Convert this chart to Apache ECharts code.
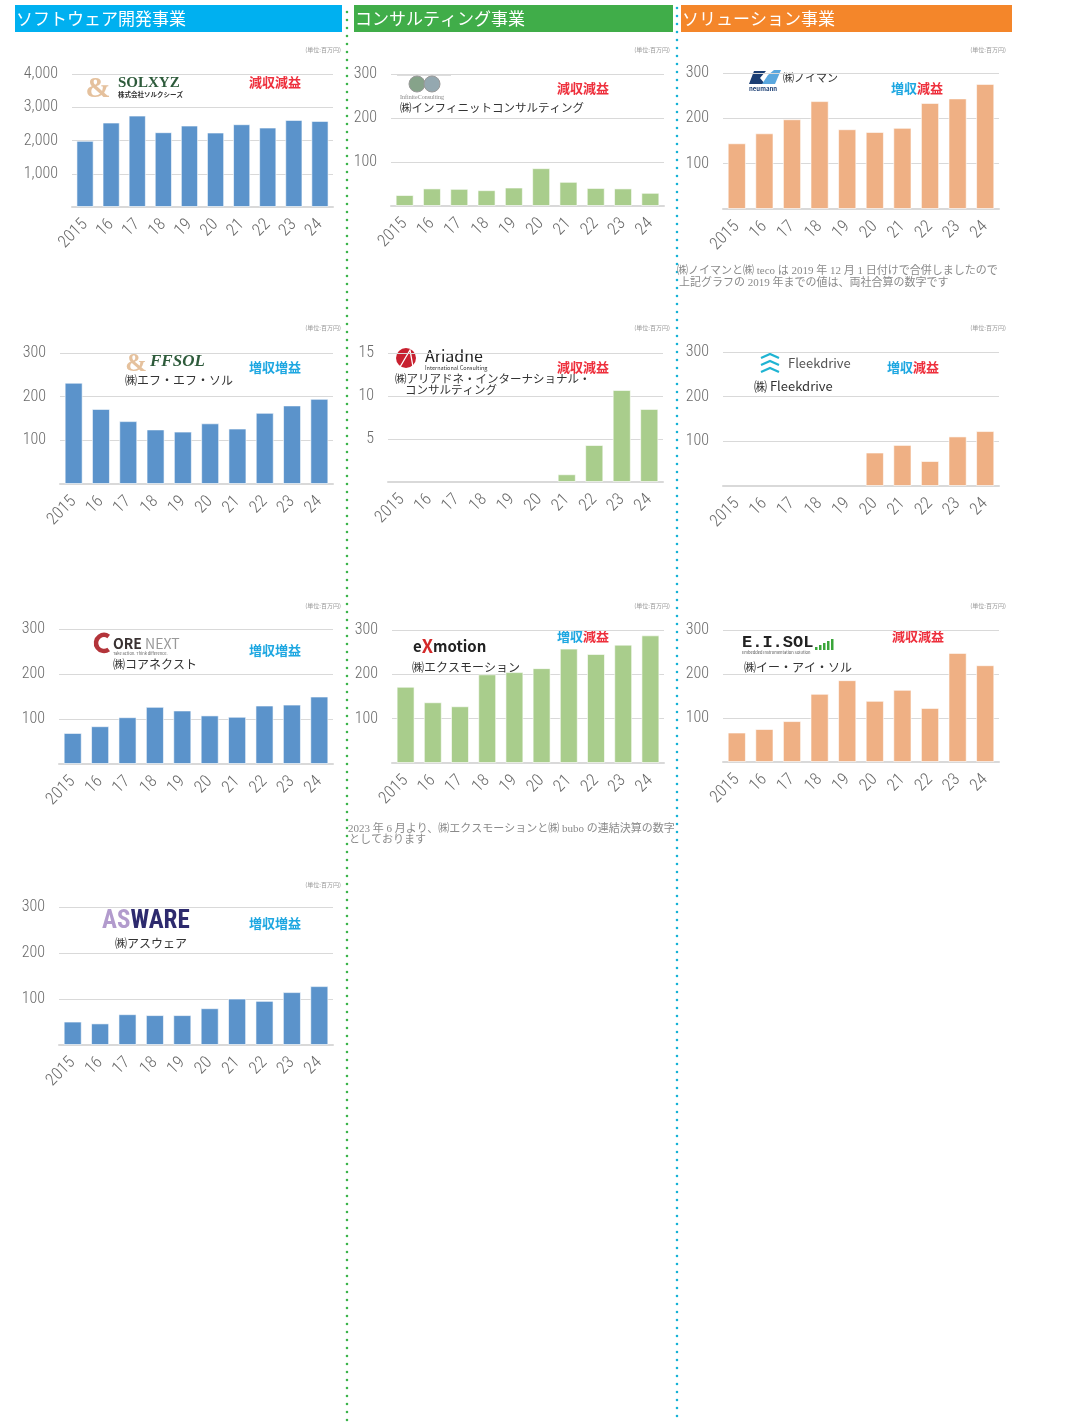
<!DOCTYPE html>
<html>
<head>
<meta charset="utf-8">
<script src="https://cdn.jsdelivr.net/npm/echarts@6.0.0/dist/echarts.min.js"></script>
<style>
html, body { margin: 0; padding: 0; background: #fff; }
#main { width: 1076px; height: 1424px; }
</style>
</head>
<body>
<div id="main"></div>
<script>
var years = ['2015', '16', '17', '18', '19', '20', '21', '22', '23', '24'];

// 売上高（単位：百万円）
var solxyz   = [1990, 2540, 2750, 2250, 2450, 2240, 2490, 2390, 2620, 2590];
var infinite = [25, 40, 39, 36, 42, 86, 55, 41, 40, 30];
var neumann  = [145, 167, 198, 238, 176, 170, 179, 234, 244, 276];
var ffsol    = [232, 172, 144, 125, 120, 139, 127, 163, 180, 195];
var ariadne  = ['-', '-', '-', '-', '-', '-', 0.9, 4.3, 10.7, 8.5];
var fleek    = ['-', '-', '-', '-', '-', 75, 92, 56, 111, 123];
var corenext = [69, 84, 104, 127, 119, 108, 105, 130, 132, 150];
var exmotion = [172, 137, 128, 200, 205, 214, 258, 246, 267, 288];
var eisol    = [67, 75, 93, 155, 186, 139, 164, 123, 248, 220];
var asware   = [51, 47, 67, 65, 65, 80, 101, 96, 115, 128];

var sections = ['ソフトウェア開発事業', 'コンサルティング事業', 'ソリューション事業'];
var results  = ['減収減益', '減収減益', '増収減益', '増収増益', '減収減益', '増収減益', '増収増益', '増収減益', '減収減益', '増収増益'];

var NUM = "'Roboto Condensed', 'Noto Sans CJK JP', sans-serif";
var JP = "'Noto Sans CJK JP', sans-serif";
var BLUE = '#5b93cb', GREEN = '#a9cd8c', ORANGE = '#efb084';

// one entry per small chart: data, colour, plot rect, y scale, unit/result label spots
var panels = [
    {data: solxyz,   color: BLUE,   l: 72,  t: 74,  w: 261, h: 133, max: 4000, step: 1000, unitX: 341,  unitY: 50,  resX: 275, resY: 82},
    {data: infinite, color: GREEN,  l: 391, t: 74,  w: 273, h: 132, max: 300,  step: 100,  unitX: 670,  unitY: 50,  resX: 583, resY: 88},
    {data: neumann,  color: ORANGE, l: 723, t: 73,  w: 276, h: 136, max: 300,  step: 100,  unitX: 1006, unitY: 50,  resX: 917, resY: 88},
    {data: ffsol,    color: BLUE,   l: 60,  t: 353, w: 273, h: 131, max: 300,  step: 100,  unitX: 341,  unitY: 328, resX: 275, resY: 367},
    {data: ariadne,  color: GREEN,  l: 388, t: 353, w: 275, h: 129, max: 15,   step: 5,    unitX: 670,  unitY: 328, resX: 583, resY: 367},
    {data: fleek,    color: ORANGE, l: 723, t: 352, w: 276, h: 134, max: 300,  step: 100,  unitX: 1006, unitY: 328, resX: 913, resY: 367},
    {data: corenext, color: BLUE,   l: 59,  t: 629, w: 274, h: 135, max: 300,  step: 100,  unitX: 341,  unitY: 606, resX: 275, resY: 650},
    {data: exmotion, color: GREEN,  l: 392, t: 630, w: 272, h: 133, max: 300,  step: 100,  unitX: 670,  unitY: 606, resX: 583, resY: 636},
    {data: eisol,    color: ORANGE, l: 723, t: 630, w: 276, h: 132, max: 300,  step: 100,  unitX: 1006, unitY: 606, resX: 918, resY: 636},
    {data: asware,   color: BLUE,   l: 59,  t: 907, w: 274, h: 138, max: 300,  step: 100,  unitX: 341,  unitY: 885, resX: 275, resY: 923}
];

var grids = [], xAxes = [], yAxes = [], series = [], graphics = [];

function txt(x, y, text, font, fill, align, extra) {
    var el = {type: 'text', x: x, y: y, silent: true,
        style: {text: text, font: font, fill: fill, align: align || 'left', textAlign: align || 'left',
                verticalAlign: 'middle', textVerticalAlign: 'middle'}};
    if (extra) { for (var k in extra) el.style[k] = extra[k]; }
    return el;
}

panels.forEach(function (p, i) {
    grids.push({left: p.l, top: p.t, width: p.w, height: p.h, containLabel: false, outerBoundsMode: 'none'});
    xAxes.push({
        type: 'category', gridIndex: i, data: years,
        axisTick: {show: false},
        axisLine: {lineStyle: {color: '#d9d9d9', width: 2}},
        axisLabel: {rotate: 45, interval: 0, margin: 15, color: '#6a6a6a', fontSize: 17, fontWeight: 300, fontFamily: NUM}
    });
    yAxes.push({
        type: 'value', gridIndex: i, min: 0, max: p.max, interval: p.step,
        axisLine: {show: false}, axisTick: {show: false},
        splitLine: {lineStyle: {color: '#d9d9d9', width: 1}},
        axisLabel: {margin: 14, color: '#6a6a6a', fontSize: 16, fontWeight: 300, fontFamily: NUM,
            formatter: function (v) { return v === 0 ? '' : v.toLocaleString('en-US'); }}
    });
    series.push({
        type: 'bar', xAxisIndex: i, yAxisIndex: i, data: p.data, barWidth: '66%', silent: true,
        itemStyle: {color: p.color, borderColor: 'rgba(255,255,255,0.6)', borderWidth: 1}
    });
    graphics.push(txt(p.unitX, p.unitY, '(単位:百万円)', '6px ' + JP, '#9a9a9a', 'right'));
    var r = results[i];
    graphics.push(txt(p.resX, p.resY, '{a|' + r.slice(0, 2) + '}{b|' + r.slice(2) + '}', 'bold 13px ' + JP, '#333', 'center', {
        rich: {
            a: {fill: r.charAt(0) === '増' ? '#1ea7e1' : '#ee2f3c', font: 'bold 13px ' + JP},
            b: {fill: r.charAt(2) === '増' ? '#1ea7e1' : '#ee2f3c', font: 'bold 13px ' + JP}
        }
    }));
});

// section headers
var headColors = ['#00b0f0', '#40ad49', '#f4862a'];
var headX = [15, 354, 681], headW = [327, 319, 331];
sections.forEach(function (s, i) {
    graphics.push({type: 'rect', silent: true, shape: {x: headX[i], y: 5, width: headW[i], height: 27}, style: {fill: headColors[i]}});
    graphics.push(txt(headX[i] + 1, 18.5, s, '17px ' + JP, '#fff', 'left'));
});

// dotted column separators
graphics.push({type: 'line', silent: true, shape: {x1: 347, y1: 12, x2: 347, y2: 1424},
    style: {stroke: '#3cb44b', lineWidth: 2.6, lineDash: [0, 8], lineCap: 'round'}});
graphics.push({type: 'line', silent: true, shape: {x1: 677, y1: 8, x2: 677, y2: 1424},
    style: {stroke: '#16b2d6', lineWidth: 2.6, lineDash: [0, 8], lineCap: 'round'}});

// company logos and names
var SERIF = "'Liberation Serif', 'DejaVu Serif', serif";
// SOLXYZ
graphics.push(txt(98, 89, '&', 'bold 30px ' + SERIF, '#e5c19d', 'center'));
graphics.push(txt(118, 83, 'SOLXYZ', 'bold 15px ' + SERIF, '#2e5b3b'));
graphics.push(txt(118, 95, '株式会社ソルクシーズ', 'bold 6.5px ' + JP, '#333'));
// Infinite Consulting
graphics.push({type: 'line', silent: true, shape: {x1: 397, y1: 75, x2: 451, y2: 75}, style: {stroke: '#bbb', lineWidth: 1}});
graphics.push({type: 'circle', silent: true, shape: {cx: 417, cy: 84, r: 8}, style: {fill: '#86a38a', stroke: '#999', lineWidth: 1}});
graphics.push({type: 'circle', silent: true, shape: {cx: 432, cy: 84, r: 8}, style: {fill: '#94a8b0', stroke: '#999', lineWidth: 1}});
graphics.push(txt(400, 97, 'InfiniteConsulting', '6px ' + SERIF, '#888'));
graphics.push(txt(400, 108, '㈱インフィニットコンサルティング', '11.5px ' + JP, '#333'));
// neumann
graphics.push({type: 'polygon', silent: true, shape: {points: [[749, 84], [754, 71], [766, 71], [760, 78], [765, 84]]}, style: {fill: '#1b3e73'}});
graphics.push({type: 'polygon', silent: true, shape: {points: [[762, 84], [768, 75], [774, 70], [781, 70], [775, 84]]}, style: {fill: '#5aa7de'}});
graphics.push(txt(749, 89, 'neumann', 'bold 6px ' + JP, '#1b3e73'));
graphics.push(txt(783, 78, '㈱ノイマン', '11px ' + JP, '#333'));
// FFSOL
graphics.push(txt(136, 364, '&', 'bold 26px ' + SERIF, '#e5c19d', 'center'));
graphics.push(txt(150, 362, 'FFSOL', 'italic bold 17px ' + SERIF, '#2e5b3b'));
graphics.push(txt(125, 380, '㈱エフ・エフ・ソル', '12px ' + JP, '#333'));
// Ariadne
graphics.push({type: 'circle', silent: true, shape: {cx: 406, cy: 358, r: 10}, style: {fill: '#c8202f'}});
graphics.push({type: 'polyline', silent: true, shape: {points: [[400, 367], [410, 350], [413, 367]]}, style: {stroke: '#fff', lineWidth: 1.3, fill: null}});
graphics.push(txt(425, 356, 'Ariadne', '16px ' + JP, '#222'));
graphics.push(txt(425, 368, 'International Consulting', '5.5px ' + JP, '#333'));
graphics.push(txt(395, 379, '㈱アリアドネ・インターナショナル・', '11.5px ' + JP, '#333'));
graphics.push(txt(405, 390, 'コンサルティング', '11.5px ' + JP, '#333'));
// Fleekdrive
[354, 361, 368].forEach(function (y) {
    graphics.push({type: 'polyline', silent: true, shape: {points: [[761, y + 4], [770, y], [779, y + 4]]},
        style: {stroke: '#1fb4d3', lineWidth: 2.2, fill: null}});
});
graphics.push(txt(788, 363, 'Fleekdrive', '13px ' + JP, '#555'));
graphics.push(txt(754, 386, '㈱ Fleekdrive', '13px ' + JP, '#333'));
// CORENEXT
graphics.push({type: 'arc', silent: true, shape: {cx: 104, cy: 643, r: 8, startAngle: Math.PI * 0.3, endAngle: Math.PI * 1.7}, style: {fill: null, stroke: '#b3343a', lineWidth: 4.5}});
graphics.push(txt(113, 644, '{o|ORE}{n| NEXT}', 'bold 14px ' + JP, '#333', 'left', {
    rich: {o: {font: 'bold 14px ' + JP, fill: '#3a3232'}, n: {font: '14px ' + JP, fill: '#999'}}
}));
graphics.push(txt(113, 653, 'Take action. Think difference.', '4px ' + JP, '#666'));
graphics.push(txt(113, 664, '㈱コアネクスト', '12px ' + JP, '#333'));
// eXmotion
graphics.push(txt(413, 646, '{k|e}{x|X}{k|motion}', 'bold 15px ' + JP, '#222', 'left', {
    rich: {k: {font: 'bold 15px ' + JP, fill: '#222'}, x: {font: 'bold 18px ' + JP, fill: '#d42a2a'}}
}));
graphics.push(txt(412, 667, '㈱エクスモーション', '12px ' + JP, '#333'));
// E.I.SOL
graphics.push(txt(742, 643, 'E.I.SOL', "bold 17px 'Liberation Mono', monospace", '#222'));
[3, 5, 7, 9, 11].forEach(function (hh, k) {
    graphics.push({type: 'rect', silent: true, shape: {x: 815 + k * 4, y: 650 - hh, width: 2.5, height: hh}, style: {fill: '#3aa53a'}});
});
graphics.push(txt(742, 652, 'Embedded Instrumentation Solution', '4px ' + JP, '#555'));
graphics.push(txt(744, 667, '㈱イー・アイ・ソル', '12px ' + JP, '#333'));
// ASWARE
var ASF = "bold 25px 'Roboto Condensed', sans-serif";
graphics.push(txt(102, 922, '{a|AS}{w|WARE}', ASF, '#2d2a6e', 'left', {
    rich: {a: {font: ASF, fill: '#b29bcd'}, w: {font: ASF, fill: '#2d2a6e'}}
}));
graphics.push(txt(115, 943, '㈱アスウェア', '12px ' + JP, '#333'));

// notes
var NOTE = "11px 'Liberation Serif', 'Noto Sans CJK JP', serif";
graphics.push(txt(677, 271, '㈱ノイマンと㈱ teco は 2019 年 12 月 1 日付けで合併しましたので', NOTE, '#8a8a8a'));
graphics.push(txt(679, 283, '上記グラフの 2019 年までの値は、両社合算の数字です', NOTE, '#8a8a8a'));
graphics.push(txt(348, 829, '2023 年 6 月より、㈱エクスモーションと㈱ bubo の連結決算の数字', NOTE, '#8a8a8a'));
graphics.push(txt(349, 840, 'としております', NOTE, '#8a8a8a'));

var chart = echarts.init(document.getElementById('main'));
chart.setOption({
    animation: false,
    backgroundColor: '#fff',
    grid: grids,
    xAxis: xAxes,
    yAxis: yAxes,
    series: series,
    graphic: {elements: graphics}
});
</script>
</body>
</html>
